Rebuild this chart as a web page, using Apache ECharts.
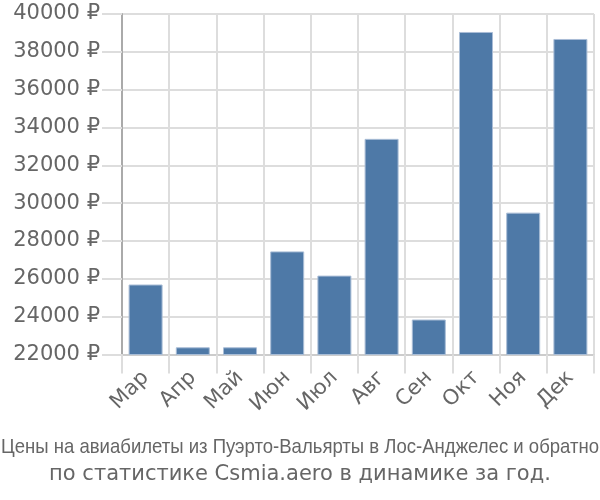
<!DOCTYPE html>
<html><head><meta charset="utf-8">
<script src="https://cdn.jsdelivr.net/npm/echarts@6/dist/echarts.min.js"></script>
<style>html,body{margin:0;padding:0;background:#fff}#c{width:600px;height:500px}</style>
</head><body><div id="c"></div>
<script>
const categories = ['Мар','Апр','Май','Июн','Июл','Авг','Сен','Окт','Ноя','Дек'];
const prices = [25700, 22380, 22380, 27450, 26170, 33400, 23850, 39050, 29500, 38680];
const yTicks = {min: 22000, max: 40000, interval: 2000};
const titleLine1 = 'Цены на авиабилеты из Пуэрто-Вальярты в Лос-Анджелес и обратно';
const titleLine2 = 'по статистике Csmia.aero в динамике за год.';

const font1 = '21px "Liberation Sans", Arial, sans-serif';
const cv = document.createElement('canvas').getContext('2d');
cv.font = font1;
const w1 = cv.measureText(titleLine1).width;
const sx1 = Math.min(1, 598 / w1);

const chart = echarts.init(document.getElementById('c'), null, {renderer: 'canvas'});
chart.setOption({
  animation: false,
  backgroundColor: '#fff',
  graphic: [
    {type: 'text', x: 300, y: 447, scaleX: sx1, scaleY: 1,
     style: {text: titleLine1, font: font1, fill: '#666', textAlign: 'center', textVerticalAlign: 'middle'}},
    {type: 'text', x: 300, y: 475,
     style: {text: titleLine2, font: '21px "DejaVu Sans", sans-serif', fill: '#666', textAlign: 'center', textVerticalAlign: 'middle'}}
  ],
  grid: {left: 122, right: 6, top: 14, bottom: 145.5, containLabel: false},
  xAxis: {
    type: 'category', data: categories,
    axisLine: {show: true, lineStyle: {color: '#ccc', width: 2}},
    axisTick: {show: true, length: 19, lineStyle: {color: '#ddd', width: 2}},
    splitLine: {show: true, lineStyle: {color: '#ddd', width: 2}},
    axisLabel: {rotate: 45, fontSize: 21, color: '#666', fontFamily: '"DejaVu Sans", sans-serif', margin: 20}
  },
  yAxis: {
    type: 'value', min: yTicks.min, max: yTicks.max, interval: yTicks.interval,
    axisLine: {show: true, lineStyle: {color: '#aaa', width: 2}},
    axisTick: {show: true, length: 20, lineStyle: {color: '#ddd', width: 2}},
    splitLine: {show: true, lineStyle: {color: '#ddd', width: 2}},
    axisLabel: {fontSize: 21, color: '#666', fontFamily: '"DejaVu Sans", sans-serif', margin: 22,
      formatter: v => v + ' ₽'}
  },
  series: [{
    type: 'bar', data: prices, barWidth: '72%',
    itemStyle: {color: '#4e79a7', borderColor: '#a9bdd6', borderWidth: 1}
  }]
});
</script></body></html>
